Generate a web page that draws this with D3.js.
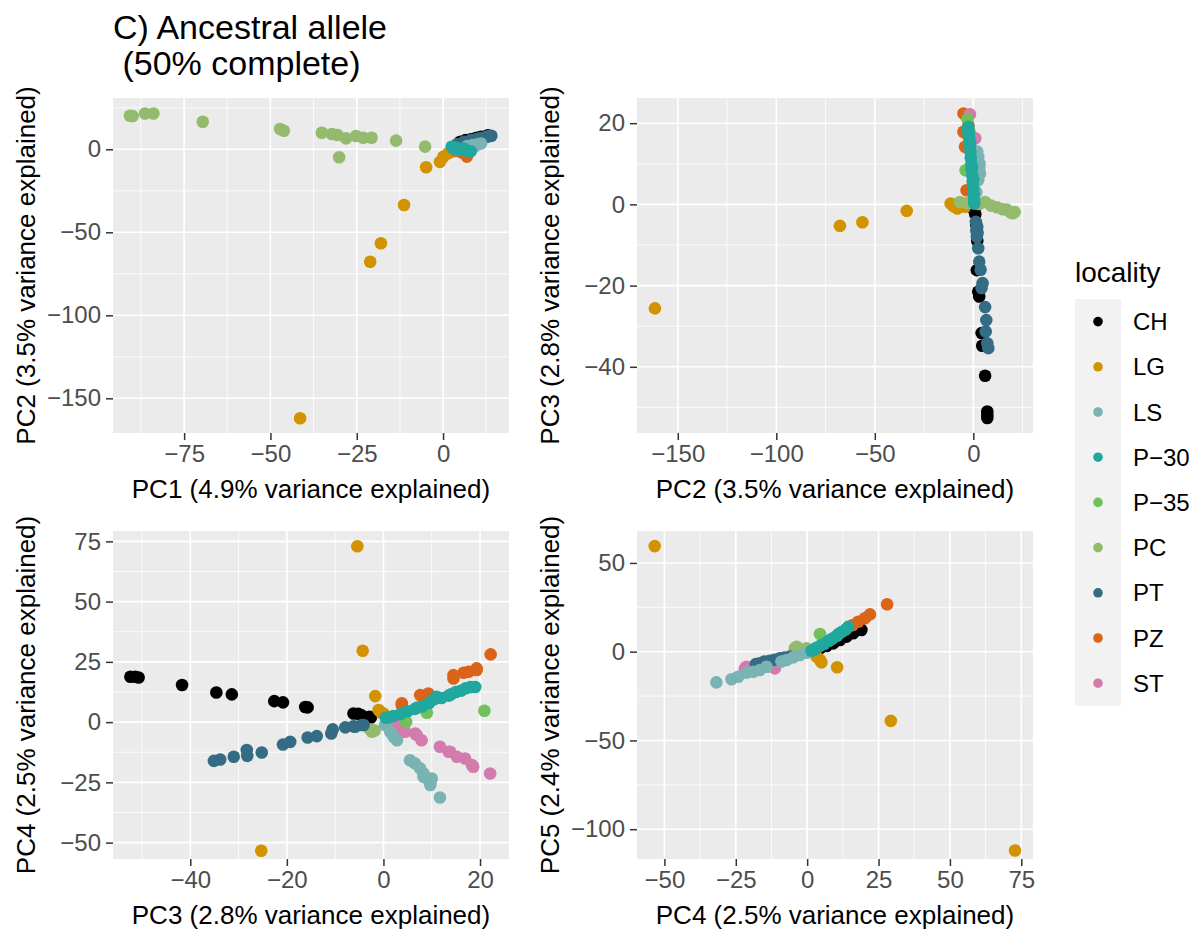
<!DOCTYPE html>
<html><head><meta charset="utf-8">
<script src="https://cdn.jsdelivr.net/npm/d3@7"></script>
<style>
body{margin:0;background:#fff}
text{font-family:"Liberation Sans",Arial,Helvetica,sans-serif}
</style>
</head><body>
<svg id="chart" width="1195" height="939"></svg>
<script>
// ---------- data ----------
const localities = ["CH","LG","LS","P−30","P−35","PC","PT","PZ","ST"];
const localityColors = ["#000000","#D39200","#7AB3B3","#20A89E","#72C05A","#94BA6E","#346C85","#DA6417","#D47BAE"];
const drawOrder = ["CH","LG","PZ","ST","P−35","PC","PT","LS","P−30"];

const titleLines = ["C) Ancestral allele", " (50% complete)"];
const legendTitle = "locality";

// PC1 vs PC2
const pc1pc2 = [
 ["CH",5,4.5],["CH",6.5,5.5],["CH",8,6],["CH",9.5,6.8],["CH",11,7.5],["CH",12.5,8],["CH",7,5],["CH",10,7],["CH",13,8.4],
 ["LG",-4.9,-10.8],["LG",-0.9,-7.6],["LG",0.1,-4.5],["LG",1.5,-2.4],["LG",2.5,-1.4],["LG",-11.3,-33.6],["LG",-18,-56.6],["LG",-21.1,-67.7],["LG",-41.4,-162],["LG",3,0.5],
 ["PZ",6.9,-4.4],["PZ",5.5,-2],["PZ",4,-1],
 ["ST",4,0],["ST",5,1],
 ["P−35",4,1],["P−35",5,2],
 ["PC",-90.7,20.2],["PC",-89.9,20],["PC",-86.3,21.6],["PC",-83.9,21.6],["PC",-69.6,16.6],["PC",-47.2,12.2],["PC",-46.1,11.2],
 ["PC",-35.1,10],["PC",-32.2,9.2],["PC",-30.6,8.6],["PC",-28.1,6.6],["PC",-25.2,8],["PC",-23.1,7],["PC",-20.7,7],["PC",-30.1,-4.8],
 ["PC",-13.6,5.2],["PC",-5.2,1.6],["PC",3,1],
 ["PT",4,3],["PT",6,4.5],["PT",8,5.5],["PT",9.5,6],["PT",11,6.8],["PT",12.5,7.5],["PT",13.5,8],["PT",14,8.2],["PT",10.5,6.5],["PT",13,7.8],
 ["LS",7,2],["LS",8.5,2.5],["LS",10,3],["LS",11,3.5],["LS",9,1.5],
 ["P−30",2.5,1.5],["P−30",3.5,1],["P−30",4.5,0.5],["P−30",5.5,0],["P−30",6.5,-0.5],["P−30",7.5,-1],["P−30",3,0.5],["P−30",5,-0.5],["P−30",6,0.5],["P−30",8,-1.2]
];

// PC2 vs PC3
const pc2pc3 = [
 ["CH",1,-2.4],["CH",0.5,-1.5],["CH",1.5,-5],["CH",2,-9],["CH",1.8,-16.2],["CH",2.5,-21.5],["CH",3,-22.7],["CH",4.2,-31.7],["CH",4.5,-34.8],["CH",6,-42.2],["CH",7.1,-51],["CH",7.1,-51.8],["CH",7.1,-52.6],
 ["LG",-161.6,-25.6],["LG",-67.7,-5.3],["LG",-56.3,-4.4],["LG",-33.8,-1.6],["LG",-11.5,0.2],["LG",-8.1,-1],["LG",-4.2,-0.6],["LG",-10,-0.5],
 ["PZ",-5,22.4],["PZ",-4,22],["PZ",-2.5,19.6],["PZ",-5,17.9],["PZ",-3.8,17.6],["PZ",-4.2,14.2],["PZ",-3.4,3.5],
 ["ST",-1.7,22.2],["ST",1,16.3],["ST",0.5,12],
 ["P−35",-3,21],["P−35",-2,18],["P−35",-3.9,8.4],
 ["PC",-6.8,0.6],["PC",-3,0.3],["PC",0,0.4],["PC",3,0.1],["PC",6,0.6],["PC",9,-0.3],["PC",12,-0.7],["PC",15,-1.2],["PC",17,-1.3],["PC",19,-2],["PC",20,-2.2],["PC",21,-1.9],
 ["PT",1.3,-4.3],["PT",1.5,-6.4],["PT",1.8,-8],["PT",2,-5.5],["PT",2.2,-7],["PT",2.5,-10.8],["PT",3,-14.1],["PT",3.7,-16.1],["PT",4.7,-19.4],["PT",4.2,-20.6],["PT",6,-25.3],["PT",6.6,-28.5],["PT",6.3,-31.3],["PT",7.1,-34.2],["PT",7.6,-35.4],
 ["LS",2.5,11.7],["LS",3,8.7],["LS",2,13],["LS",2.5,6],["LS",1.5,3],["LS",3.2,10],["LS",3.4,7.6],
 ["P−30",-2.5,19.1],["P−30",-2.8,18],["P−30",-2.2,17.5],["P−30",-2,16],["P−30",-1.5,15],["P−30",-1.8,14.5],["P−30",-1.5,13],["P−30",-1.3,11.5],["P−30",-1,10],["P−30",-0.7,9],
 ["P−30",-0.8,8.5],["P−30",-0.5,7],["P−30",0,6],["P−30",-0.3,5.5],["P−30",0,4],["P−30",0.2,2.5],["P−30",0.4,1],["P−30",0.5,0.2]
];

// PC3 vs PC4
const pc3pc4 = [
 ["CH",-52.4,18.8],["CH",-51.4,18.8],["CH",-50.7,18.5],["CH",-41.7,15.4],["CH",-34.6,12.3],["CH",-31.4,11.5],["CH",-22.6,8.7],["CH",-20.8,8.2],
 ["CH",-16.2,6.3],["CH",-15.7,6.1],["CH",-6.2,3.6],["CH",-5.2,3.4],["CH",-4.5,2.8],["CH",-2.9,2.2],["CH",-2.6,1.9],
 ["LG",-5.4,73],["LG",-4.3,29.6],["LG",-25.3,-53.4],["LG",-1.7,10.8],["LG",-1,5],["LG",0,3.6],["LG",-0.5,4],
 ["PZ",3.8,7],["PZ",3.8,7.8],["PZ",7.6,11.2],["PZ",9.3,11.9],["PZ",9,8.4],["PZ",14.5,18.1],["PZ",14.5,19.5],["PZ",16.6,20.5],["PZ",17.6,20.9],["PZ",19.3,21.6],["PZ",19.3,22.3],["PZ",22.2,28.1],
 ["ST",2.8,-1.2],["ST",4.1,-4],["ST",4.5,-4],["ST",6.6,-4.7],["ST",6.9,-5.4],["ST",7.9,-7.5],["ST",11.7,-10.2],["ST",13.5,-12.3],["ST",13.8,-12.3],
 ["ST",15.2,-14.4],["ST",16.9,-15.1],["ST",18.3,-17.8],["ST",18.6,-18.5],["ST",22.1,-21.3],
 ["P−35",4.7,0.1],["P−35",9,3.9],["P−35",20.9,4.7],
 ["PC",-2.4,-4],["PC",-2.8,-3],["PC",-1.8,-3.5],
 ["PT",-35.1,-16.1],["PT",-33.8,-15.5],["PT",-31,-14.4],["PT",-28.3,-11.6],["PT",-28.2,-14],["PT",-25.2,-12.6],["PT",-20.8,-9.3],["PT",-19.3,-8.2],
 ["PT",-15.7,-6.4],["PT",-13.8,-5.8],["PT",-10.8,-4.7],["PT",-10.5,-3],["PT",-7.9,-2.2],["PT",-6.2,-1.7],["PT",-4.5,-1.2],["PT",-5.9,-1.9],["PT",-4.1,-1.2],
 ["LS",0.35,-1.2],["LS",1.4,-4],["LS",2.1,-6.1],["LS",2.8,-7.5],["LS",5.5,-15.8],["LS",6.5,-17.1],["LS",7.6,-19.2],["LS",8.3,-21.3],["LS",8.3,-22.7],
 ["LS",9,-23.4],["LS",9.7,-24.8],["LS",9.7,-26.1],["LS",10,-23.4],["LS",11.7,-31.3],
 ["P−30",0.5,1.8],["P−30",1,2],["P−30",2,2.5],["P−30",3.5,3.3],["P−30",5,4.5],["P−30",6.5,5.5],["P−30",7,6],["P−30",8,6.5],["P−30",9.5,8],["P−30",10.5,9.5],
 ["P−30",11,10.5],["P−30",12,10],["P−30",13.5,11],["P−30",14,11.5],["P−30",15,12.5],["P−30",16,13],["P−30",17,14],["P−30",18,14.5],["P−30",19,14.6]
];

// PC4 vs PC5
const pc4pc5 = [
 ["CH",19,12.2],["CH",18.5,12.8],["CH",16.1,10.4],["CH",13.8,8.5],["CH",11.5,6.6],["CH",9.1,4.7],["CH",6.8,3.2],["CH",4.5,1.9],["CH",2.5,1],
 ["LG",-53.4,59.5],["LG",29.3,-39],["LG",72.8,-112],["LG",10.5,-8.8],["LG",4.5,-4.7],["LG",3.3,-2.8],["LG",5,-6],
 ["PZ",28,26.7],["PZ",22,21],["PZ",20.2,18.8],["PZ",17.9,16.9],["PZ",16,15],
 ["ST",-21.2,-8.5],["ST",-17.7,-9.4],["ST",-14.2,-8.5],["ST",-11.3,-6.5],["ST",-21.8,-9.4],["ST",-11.3,-9.4],
 ["P−35",4.5,10],
 ["PC",-4.3,1.9],["PC",-3.7,2.8],["PC",-2.6,1],["PC",-0.2,1.9],
 ["PT",-18,-7],["PT",-16.6,-6.5],["PT",-15,-5.5],["PT",-13.1,-5.1],["PT",-11.5,-4.5],["PT",-9.6,-3.7],["PT",-8,-3.3],["PT",-6.1,-2.8],
 ["LS",-31.8,-17.3],["LS",-26.5,-15.5],["LS",-24.2,-14.1],["LS",-21.2,-11.8],["LS",-18.9,-11.3],["LS",-16.6,-10.3],["LS",-14.2,-8.5],
 ["LS",-9,-5.5],["LS",-7.2,-4.7],["LS",-4.9,-3.2],["LS",-2.6,-1.9],["LS",-0.2,-0.6],
 ["P−30",1.5,0.5],["P−30",2.5,1],["P−30",3,2],["P−30",4.5,3.3],["P−30",6,4.5],["P−30",7.5,6],["P−30",8,6.5],["P−30",9,7.5],["P−30",10.5,9],["P−30",11,10],["P−30",12,11],["P−30",13.5,12.5],["P−30",14.4,14]
];

// axis limits and tick labels
const xLimits = [[-95.6,19.1],[-170.7,30.3],[-56.0,26.0],[-59.6,79.1]];
const yLimits = [[-170.9,30.9],[-56.3,26.2],[-56.8,79.3],[-116.8,68.0]];
const xTickValues = [[-75,-50,-25,0],[-150,-100,-50,0],[-40,-20,0,20],[-50,-25,0,25,50,75]];
const yTickValues = [[-150,-100,-50,0],[-40,-20,0,20],[-50,-25,0,25,50,75],[-100,-50,0,50]];
const xTitles = ["PC1 (4.9% variance explained)","PC2 (3.5% variance explained)","PC3 (2.8% variance explained)","PC4 (2.5% variance explained)"];
const yTitles = ["PC2 (3.5% variance explained)","PC3 (2.8% variance explained)","PC4 (2.5% variance explained)","PC5 (2.4% variance explained)"];
const panelData = [pc1pc2, pc2pc3, pc3pc4, pc4pc5];

// ---------- layout ----------
const FONT = '"Liberation Sans",Arial,Helvetica,sans-serif';
const svg = d3.select("#chart");
svg.append("rect").attr("width",1195).attr("height",939).attr("fill","#fff");
const colorScale = d3.scaleOrdinal().domain(localities).range(localityColors);
const panelBoxes = [
  {left:113, top:98,  w:396, h:335},
  {left:637, top:98,  w:396, h:335},
  {left:113, top:531, w:396, h:328},
  {left:637, top:531, w:396, h:328}
];
const fmt = d3.format("d");

function minorTicks(ticks, dom){
  const step = ticks[1]-ticks[0];
  const out = [];
  for(let v = ticks[0]-step/2; v <= dom[1]; v += step){
    if(v >= dom[0]) out.push(v);
  }
  return out;
}

panelBoxes.forEach((b,i)=>{
  const x = d3.scaleLinear().domain(xLimits[i]).range([b.left, b.left+b.w]);
  const y = d3.scaleLinear().domain(yLimits[i]).range([b.top+b.h, b.top]);
  const g = svg.append("g");
  g.append("rect").attr("x",b.left).attr("y",b.top).attr("width",b.w).attr("height",b.h).attr("fill","#EBEBEB");
  minorTicks(xTickValues[i], xLimits[i]).forEach(v=>{
    g.append("line").attr("x1",x(v)).attr("x2",x(v)).attr("y1",b.top).attr("y2",b.top+b.h).attr("stroke","#fff").attr("stroke-width",0.8);
  });
  minorTicks(yTickValues[i], yLimits[i]).forEach(v=>{
    g.append("line").attr("y1",y(v)).attr("y2",y(v)).attr("x1",b.left).attr("x2",b.left+b.w).attr("stroke","#fff").attr("stroke-width",0.8);
  });
  xTickValues[i].forEach(v=>{
    g.append("line").attr("x1",x(v)).attr("x2",x(v)).attr("y1",b.top).attr("y2",b.top+b.h).attr("stroke","#fff").attr("stroke-width",1.6);
  });
  yTickValues[i].forEach(v=>{
    g.append("line").attr("y1",y(v)).attr("y2",y(v)).attr("x1",b.left).attr("x2",b.left+b.w).attr("stroke","#fff").attr("stroke-width",1.6);
  });
  const xAxis = d3.axisBottom(x).tickValues(xTickValues[i]).tickFormat(fmt).tickSize(7).tickPadding(5);
  const yAxis = d3.axisLeft(y).tickValues(yTickValues[i]).tickFormat(fmt).tickSize(7).tickPadding(5);
  const gx = svg.append("g").attr("transform",`translate(0,${b.top+b.h})`).call(xAxis);
  const gy = svg.append("g").attr("transform",`translate(${b.left},0)`).call(yAxis);
  [gx,gy].forEach(a=>{
    a.attr("font-size",24).attr("font-family",FONT);
    a.select(".domain").remove();
    a.selectAll(".tick line").attr("stroke","#333").attr("stroke-width",1.5);
    a.selectAll(".tick text").attr("fill","#4D4D4D");
  });
  gx.selectAll(".tick text").attr("dy","0.71em");
  const clip = "clip"+i;
  svg.append("clipPath").attr("id",clip).append("rect").attr("x",b.left).attr("y",b.top).attr("width",b.w).attr("height",b.h);
  const pts = panelData[i].slice().sort((a,c)=>drawOrder.indexOf(a[0])-drawOrder.indexOf(c[0]));
  svg.append("g").attr("clip-path",`url(#${clip})`).selectAll("circle").data(pts).join("circle")
    .attr("cx",d=>x(d[1])).attr("cy",d=>y(d[2])).attr("r",6.3).attr("fill",d=>colorScale(d[0]));
  svg.append("text").attr("x",b.left+b.w/2).attr("y",b.top+b.h+65).attr("text-anchor","middle")
    .attr("font-size",26).attr("fill","#000").text(xTitles[i]);
  svg.append("text").attr("transform",`translate(${b.left-78},${b.top+b.h/2}) rotate(-90)`).attr("text-anchor","middle")
    .attr("font-size",26).attr("fill","#000").text(yTitles[i]);
});

// title
svg.append("text").attr("x",113).attr("y",39).attr("font-size",34).attr("fill","#000").text(titleLines[0]);
svg.append("text").attr("x",113).attr("y",75).attr("font-size",34).attr("fill","#000").attr("xml:space","preserve").style("white-space","pre").text(titleLines[1]);

// legend
const lg = svg.append("g");
lg.append("text").attr("x",1075).attr("y",282).attr("font-size",28).attr("fill","#000").text(legendTitle);
const keyH = 45.2, keyTop = 299;
localities.forEach((l,k)=>{
  const cy = keyTop + keyH*k + keyH/2;
  lg.append("rect").attr("x",1075).attr("y",keyTop+keyH*k).attr("width",46).attr("height",keyH).attr("fill","#F2F2F2");
  lg.append("circle").attr("cx",1098).attr("cy",cy).attr("r",4.8).attr("fill",colorScale(l));
  lg.append("text").attr("x",1133).attr("y",cy).attr("dy","0.36em").attr("font-size",24).attr("fill","#000").text(l);
});
</script>
</body></html>
